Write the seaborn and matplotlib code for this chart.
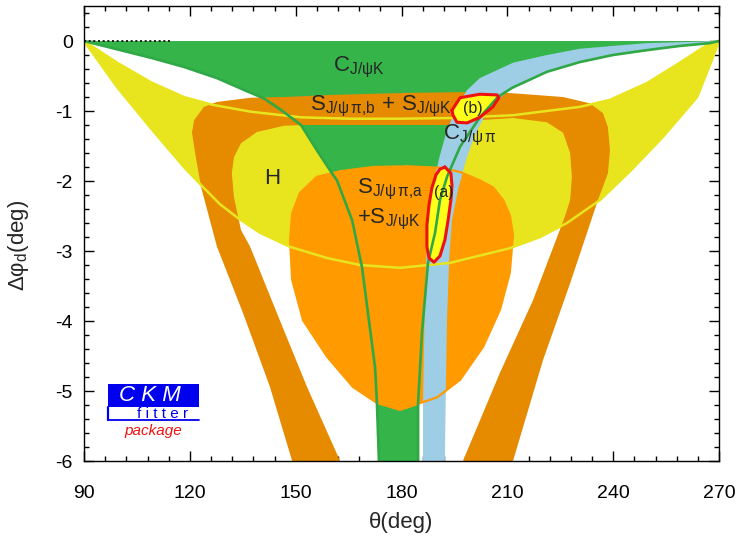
import numpy as np
import pandas as pd
import matplotlib
matplotlib.use("Agg")
import matplotlib.pyplot as plt
import seaborn as sns
from matplotlib.patches import Rectangle
from matplotlib.lines import Line2D
from matplotlib.ticker import MultipleLocator

# ---------------- data (theta in deg, delta phi_d in deg) ----------------
# H constraint (yellow band): upper and lower boundaries
h_up_theta = [90, 99.4, 109.0, 118.3, 126.3, 137.3, 151.5, 165.4, 179.6, 194.3, 211.6, 230.6, 239.1, 249.6, 258.9, 267.4, 270]
h_up_phi = [0, -0.31, -0.59, -0.80, -0.91, -1.01, -1.09, -1.11, -1.11, -1.10, -1.06, -0.94, -0.84, -0.60, -0.31, -0.03, 0]
h_lo_theta = [90, 99.4, 109.0, 118.3, 124.0, 128.5, 133.4, 139.9, 148.4, 158.9, 168.2, 179.6, 193.7, 210.7, 219.3, 226.9, 236.3, 244.8, 254.1, 263.8, 268.3, 270]
h_lo_phi = [0, -0.66, -1.25, -1.80, -2.10, -2.33, -2.52, -2.74, -2.94, -3.10, -3.20, -3.24, -3.17, -2.96, -2.80, -2.60, -2.27, -1.86, -1.37, -0.80, -0.23, 0]

# C_J/psiK (green): left and right boundaries
ck_left_theta = [90, 109.0, 118.3, 127.7, 135.4, 141.0, 146.0, 151.5, 156.0, 160.3, 161.7, 166.0, 168.8, 170.5, 172.5, 173.0, 173.6]
ck_left_phi = [0, -0.24, -0.37, -0.53, -0.70, -0.82, -0.99, -1.20, -1.56, -1.89, -1.99, -2.56, -3.23, -3.89, -4.66, -5.13, -6.0]
ck_right_theta = [270, 267.4, 258.9, 249.6, 239.9, 230.6, 221.2, 211.3, 207.3, 202.2, 196.6, 192.9, 190.9, 189.5, 187.5, 185.8, 184.7, 184.7]
ck_right_phi = [0, -0.03, -0.07, -0.13, -0.20, -0.30, -0.44, -0.67, -0.80, -1.09, -1.51, -1.94, -2.27, -2.74, -3.17, -4.17, -5.17, -6.0]

# C_J/psi pi (blue band): two edges
cp_a_theta = [270, 263.8, 249.6, 239.9, 230.6, 221.2, 211.6, 202.2, 198.6, 195.7, 192.9, 190.9, 189.2, 188.1, 187.2, 186.7, 186.4, 186.1, 186.1]
cp_a_phi = [0, -0.01, -0.03, -0.07, -0.11, -0.20, -0.31, -0.53, -0.70, -0.94, -1.27, -1.63, -1.99, -2.41, -2.84, -3.56, -4.27, -5.13, -6.0]
cp_b_theta = [270, 267.4, 258.9, 249.6, 239.9, 230.6, 221.2, 211.3, 207.3, 203.7, 200.8, 198.3, 196.0, 194.3, 193.5, 192.9, 192.6, 192.3]
cp_b_phi = [0, -0.03, -0.07, -0.13, -0.20, -0.30, -0.44, -0.67, -0.84, -1.06, -1.34, -1.70, -2.13, -2.56, -3.13, -3.99, -4.84, -6.0]

# S_J/psi pi,b + S_J/psiK (dark orange horseshoe): outer and inner edges
sb_out_theta = [149.0, 142.7, 135.1, 127.7, 123.2, 121.7, 120.6, 121.2, 124.0, 127.7, 137.3, 146.7, 160.3, 182.4, 197.4, 209.9, 225.8, 233.4, 237.1, 238.5, 239.1, 238.5, 235.7, 227.8, 220.1, 211.6]
sb_out_phi = [-6.0, -4.94, -3.89, -2.94, -2.09, -1.66, -1.31, -1.13, -0.94, -0.87, -0.81, -0.80, -0.77, -0.74, -0.73, -0.74, -0.80, -0.89, -1.03, -1.23, -1.56, -1.89, -2.27, -3.46, -4.56, -6.0]
sb_in_theta = [197.4, 207.9, 217.3, 226.3, 227.8, 228.3, 227.8, 225.8, 221.2, 211.6, 202.2, 192.9, 173.9, 152.4, 146.7, 139.0, 134.5, 132.5, 131.9, 132.5, 134.5, 137.1, 144.7, 153.2, 162.6]
sb_in_phi = [-6.0, -4.74, -3.70, -2.51, -2.27, -1.94, -1.60, -1.31, -1.16, -1.10, -1.13, -1.20, -1.20, -1.20, -1.21, -1.30, -1.46, -1.66, -1.89, -2.23, -2.70, -2.94, -3.89, -4.94, -6.0]

# S_J/psi pi,a + S_J/psiK (light orange)
sa_theta = [181.6, 190.9, 196.6, 202.2, 205.9, 208.8, 210.7, 211.6, 210.7, 207.9, 203.1, 196.6, 190.1, 179.6, 173.0, 166.2, 158.9, 152.1, 149.0, 148.4, 149.0, 151.2, 156.0, 162.6, 171.9]
sa_phi = [-1.79, -1.81, -1.87, -1.99, -2.09, -2.27, -2.49, -2.77, -3.31, -3.84, -4.37, -4.84, -5.09, -5.27, -5.17, -4.94, -4.51, -3.99, -3.41, -2.84, -2.46, -2.17, -1.94, -1.86, -1.80]

# combined fit contours (a) and (b)
ca_theta = [192.3, 194.0, 194.3, 194.0, 193.2, 192.3, 190.9, 189.2, 187.8, 187.2, 187.2, 187.8, 188.6, 189.8, 190.9]
ca_phi = [-1.80, -1.89, -2.06, -2.27, -2.56, -2.84, -3.07, -3.16, -3.10, -2.94, -2.63, -2.34, -2.10, -1.91, -1.83]
cb_theta = [194.3, 196.6, 202.2, 207.1, 207.6, 205.9, 202.2, 198.6, 195.7, 194.6]
cb_phi = [-0.99, -0.81, -0.76, -0.77, -0.81, -0.94, -1.09, -1.17, -1.16, -1.06]

# dotted reference line
ref_theta = [90, 114.5]
ref_phi = [0, 0]

x_ticks = [90, 120, 150, 180, 210, 240, 270]
y_ticks = [0, -1, -2, -3, -4, -5, -6]

# ---------------- style ----------------
sns.set_theme(style="ticks")
plt.rcParams["font.family"] = ["Liberation Sans", "DejaVu Sans"]
plt.rcParams["mathtext.fontset"] = "custom"
plt.rcParams["mathtext.rm"] = "Liberation Sans"
plt.rcParams["mathtext.it"] = "Liberation Sans:italic"
plt.rcParams["mathtext.bf"] = "Liberation Sans:bold"
plt.rcParams["axes.unicode_minus"] = False

YELLOW = "#E8E51E"
GREEN = "#35B44A"
GREEN_LINE = "#2FA845"
DKORANGE = "#E68A00"
LTORANGE = "#FF9A00"
BLUE = "#9ECDE6"
RED = "#EE1111"
CYELLOW = "#FFFF1A"

fig = plt.figure(figsize=(7.37, 5.38), dpi=100)
ax = fig.add_axes([0.114, 0.1431, 0.8616, 0.8457])

# yellow H band
ax.fill(h_up_theta + h_lo_theta[::-1], h_up_phi + h_lo_phi[::-1], color=YELLOW, lw=0, zorder=1)
# green C_J/psiK
ax.fill(ck_left_theta + ck_right_theta[::-1], ck_left_phi + ck_right_phi[::-1], color=GREEN, lw=0, zorder=2)
# dark orange horseshoe
ax.fill(sb_out_theta + sb_in_theta, sb_out_phi + sb_in_phi, color=DKORANGE, lw=0, zorder=3)
# light orange blob
ax.fill(sa_theta, sa_phi, color=LTORANGE, lw=0, zorder=4)
# blue band
ax.fill(cp_a_theta + cp_b_theta[::-1], cp_a_phi + cp_b_phi[::-1], color=BLUE, lw=0, zorder=5)

# outline of light orange over the blue band
sns.lineplot(x=sa_theta + sa_theta[:1], y=sa_phi + sa_phi[:1], sort=False, estimator=None,
             color=LTORANGE, lw=1.6, ax=ax, zorder=6)
# yellow H boundary lines
for xs, ys in [(h_up_theta, h_up_phi), (h_lo_theta, h_lo_phi)]:
    sns.lineplot(x=xs, y=ys, sort=False, estimator=None, color=YELLOW, lw=1.8, ax=ax, zorder=6)

# contour fills
ax.fill(ca_theta, ca_phi, color=CYELLOW, lw=0, zorder=7)
ax.fill(cb_theta, cb_phi, color=CYELLOW, lw=0, zorder=7)

# green boundary lines
for xs, ys in [(ck_left_theta, ck_left_phi), (ck_right_theta, ck_right_phi)]:
    sns.lineplot(x=xs, y=ys, sort=False, estimator=None, color=GREEN_LINE, lw=1.9, ax=ax, zorder=8)

# red contour outlines
for xs, ys in [(ca_theta, ca_phi), (cb_theta, cb_phi)]:
    sns.lineplot(x=xs + xs[:1], y=ys + ys[:1], sort=False, estimator=None, color=RED, lw=2.2, ax=ax, zorder=9)

# dotted line at zero
sns.lineplot(x=ref_theta, y=ref_phi, sort=False, estimator=None, color="black", lw=1.2,
             linestyle=(0, (1.2, 1.6)), ax=ax, zorder=9)

# labels inside plot
fs = 16
ax.text(160.6, -0.44, r"$\mathrm{C}_{\mathrm{J/ψK}}$", fontsize=fs, ha="left", va="baseline", zorder=10)
ax.text(154.1, -0.99, r"$\mathrm{S}_{\mathrm{J/ψ\,π{,}b}}\,+\,\mathrm{S}_{\mathrm{J/ψK}}$", fontsize=fs,
        ha="left", va="baseline", zorder=10)
ax.text(191.8, -1.41, r"$\mathrm{C}_{\mathrm{J/ψ\,π}}$", fontsize=fs, ha="left", va="baseline", zorder=10)
ax.text(141.0, -2.04, "H", fontsize=fs, ha="left", va="baseline", zorder=10)
ax.text(167.4, -2.17, r"$\mathrm{S}_{\mathrm{J/ψ\,π{,}a}}$", fontsize=fs, ha="left", va="baseline", zorder=10)
ax.text(167.4, -2.60, r"$\mathrm{+S}_{\mathrm{J/ψK}}$", fontsize=fs, ha="left", va="baseline", zorder=10)
ax.text(191.9, -2.17, "(a)", fontsize=11.5, ha="center", va="center", zorder=10)
ax.text(200.3, -0.96, "(b)", fontsize=11.5, ha="center", va="center", zorder=10)

# axes
ax.set_xlim(90, 270)
ax.set_ylim(-6, 0.5)
ax.set_xticks(x_ticks)
ax.set_yticks(y_ticks)
ax.xaxis.set_minor_locator(MultipleLocator(6))
ax.yaxis.set_minor_locator(MultipleLocator(0.2))
ax.tick_params(which="both", direction="in", top=True, right=True, colors="black", width=1.0)
ax.tick_params(which="major", length=7.5, labelsize=14)
ax.tick_params(which="minor", length=3.8)
ax.tick_params(axis="x", which="major", pad=17)
ax.tick_params(axis="y", which="major", pad=8)
for s in ax.spines.values():
    s.set_linewidth(1.0)
    s.set_color("black")
    s.set_zorder(12)
ax.set_facecolor("white")

ax.set_xlabel("θ(deg)", fontsize=16)
ax.xaxis.label.set_va("center")
ax.xaxis.set_label_coords(0.5, -0.136)
ax.set_ylabel(r"$\mathrm{Δφ_d(deg)}$", fontsize=16)
ax.yaxis.label.set_va("center")
ax.yaxis.set_label_coords(-0.103, 0.475)
leg = ax.get_legend()
if leg is not None:
    leg.remove()

# CKMfitter logo (figure pixel positions converted to fractions)
W, H = 737.0, 538.0
fig.add_artist(Rectangle((108 / W, 1 - 407 / H), 91 / W, 23 / H, transform=fig.transFigure,
                         facecolor="#0000EE", edgecolor="none", zorder=20))
fig.add_artist(Line2D([108 / W, 108 / W], [1 - 407 / H, 1 - 420 / H], transform=fig.transFigure,
                      color="#0000EE", lw=1.6, zorder=20))
fig.add_artist(Line2D([108 / W, 199 / W], [1 - 420 / H, 1 - 420 / H], transform=fig.transFigure,
                      color="#0000EE", lw=1.3, zorder=20))
fig.text(150 / W, 1 - 395.5 / H, "C K M", color="white", fontsize=16, style="italic",
         ha="center", va="center", zorder=21)
fig.text(163 / W, 1 - 418 / H, "f i t t e r", color="#0000EE", fontsize=11,
         ha="center", va="baseline", zorder=21)
fig.text(153 / W, 1 - 431 / H, "package", color="#EE1111", fontsize=11, style="italic",
         ha="center", va="center", zorder=21)

fig.savefig("out.png", dpi=100)
